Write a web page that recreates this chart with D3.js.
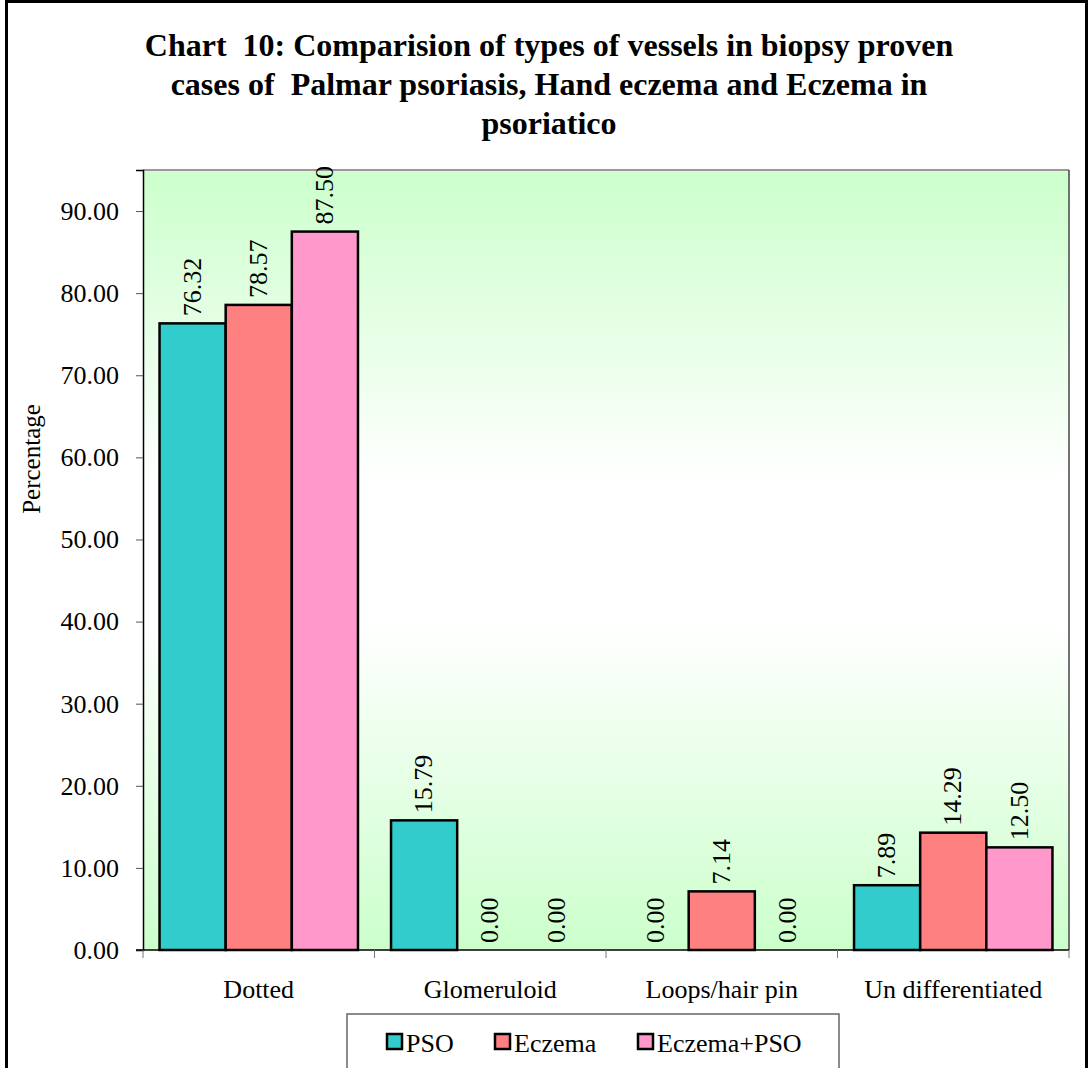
<!DOCTYPE html>
<html>
<head>
<meta charset="utf-8">
<script src="https://cdn.jsdelivr.net/npm/d3@7"></script>
<style>
  html, body { margin: 0; padding: 0; background: #fff; }
  svg { display: block; }
  svg text { font-family: "Liberation Serif", "Times New Roman", serif; fill: #000; }
</style>
</head>
<body>
<svg id="chart" width="1089" height="1068"></svg>
<script>
// Vessel types and the share (%) of each group showing them
const categories = ["Dotted", "Glomeruloid", "Loops/hair pin", "Un differentiated"];
const seriesNames = ["PSO", "Eczema", "Eczema+PSO"];
const psoValues = [76.32, 15.79, 0.00, 7.89];
const eczemaValues = [78.57, 0.00, 7.14, 14.29];
const eczemaPsoValues = [87.50, 0.00, 0.00, 12.50];
const yTickValues = [0, 10, 20, 30, 40, 50, 60, 70, 80, 90];
const titleLines = [
  "Chart  10: Comparision of types of vessels in biopsy proven",
  "cases of  Palmar psoriasis, Hand eczema and Eczema in",
  "psoriatico"
];
const seriesColors = ["#33CCCC", "#FF8080", "#FF99CC"];

const seriesValues = [psoValues, eczemaValues, eczemaPsoValues];

const SERIF = "'Liberation Serif', 'Times New Roman', serif";
const svg = d3.select("#chart");
const plot = { left: 143, right: 1069, top: 170, bottom: 950 };

// Outer chart frame
svg.append("rect")
  .attr("x", 6.5).attr("y", 1.5)
  .attr("width", 1080).attr("height", 1100)
  .attr("fill", "#fff").attr("stroke", "#000").attr("stroke-width", 3);

// Title
svg.append("g").selectAll("text")
  .data(titleLines)
  .join("text")
  .attr("x", 549)
  .attr("y", (d, i) => 56 + i * 39)
  .attr("text-anchor", "middle")
  .style("font-family", SERIF)
  .style("font-size", "32px")
  .style("font-weight", "bold")
  .style("white-space", "pre")
  .text(d => d);

// Plot background gradient
const defs = svg.append("defs");
const grad = defs.append("linearGradient")
  .attr("id", "plotBg").attr("x1", 0).attr("y1", 0).attr("x2", 0).attr("y2", 1);
grad.append("stop").attr("offset", "0").attr("stop-color", "#ccffcc");
grad.append("stop").attr("offset", "0.4").attr("stop-color", "#ffffff");
grad.append("stop").attr("offset", "0.58").attr("stop-color", "#ffffff");
grad.append("stop").attr("offset", "1").attr("stop-color", "#ccffcc");

svg.append("rect")
  .attr("x", plot.left).attr("y", plot.top)
  .attr("width", plot.right - plot.left).attr("height", plot.bottom - plot.top)
  .attr("fill", "url(#plotBg)");

// Plot frame: grey top, dark right
svg.append("line")
  .attr("x1", plot.left).attr("x2", plot.right)
  .attr("y1", plot.top).attr("y2", plot.top)
  .attr("stroke", "#999").attr("stroke-width", 2);
svg.append("line")
  .attr("x1", plot.right).attr("x2", plot.right)
  .attr("y1", plot.top).attr("y2", plot.bottom)
  .attr("stroke", "#444").attr("stroke-width", 1.5);

// Scales
const x0 = d3.scaleBand()
  .domain(categories)
  .range([plot.left, plot.right])
  .paddingInner(0).paddingOuter(0);
const x1 = d3.scaleBand()
  .domain(seriesNames)
  .range([0, x0.bandwidth()])
  .paddingInner(0).paddingOuter(0.25);
const y = d3.scaleLinear().domain([0, 95]).range([plot.bottom, plot.top]);

// Y axis
const yAxis = svg.append("g")
  .attr("transform", `translate(${plot.left},0)`)
  .call(d3.axisLeft(y)
    .tickValues(yTickValues)
    .tickFormat(d3.format(".2f"))
    .tickSize(7)
    .tickPadding(17));
yAxis.select(".domain").attr("stroke", "#000").attr("stroke-width", 1.5);
yAxis.selectAll(".tick line").attr("stroke", "#555");
yAxis.selectAll(".tick text")
  .style("font-family", SERIF)
  .style("font-size", "26px")
  .style("fill", "#000");

// Y axis title
svg.append("text")
  .attr("transform", "translate(40,459) rotate(-90)")
  .attr("text-anchor", "middle")
  .style("font-family", SERIF)
  .style("font-size", "25px")
  .text("Percentage");

// Bars
const rows = categories.map((c, i) => ({
  category: c,
  values: seriesNames.map((s, j) => ({ series: s, value: seriesValues[j][i], color: seriesColors[j] }))
}));

const groups = svg.append("g").selectAll("g")
  .data(rows)
  .join("g")
  .attr("transform", d => `translate(${x0(d.category)},0)`);

groups.selectAll("rect")
  .data(d => d.values.filter(v => v.value > 0))
  .join("rect")
  .attr("x", d => x1(d.series))
  .attr("y", d => y(d.value))
  .attr("width", x1.bandwidth())
  .attr("height", d => y(0) - y(d.value))
  .attr("fill", d => d.color)
  .attr("stroke", "#000")
  .attr("stroke-width", 2.5);

// Value labels, rotated, sitting above each bar
groups.selectAll("text")
  .data(d => d.values)
  .join("text")
  .attr("transform", d => `translate(${x1(d.series) + x1.bandwidth() / 2 - 1},${y(d.value) - 7}) rotate(-90)`)
  .attr("dy", "0.35em")
  .attr("text-anchor", "start")
  .style("font-family", SERIF)
  .style("font-size", "26px")
  .text(d => d.value.toFixed(2));

// X axis line and category boundary ticks
svg.append("line")
  .attr("x1", plot.left - 7).attr("x2", plot.right)
  .attr("y1", plot.bottom).attr("y2", plot.bottom)
  .attr("stroke", "#000").attr("stroke-width", 1.5);

const boundaries = categories.map(c => x0(c)).concat([x0.range()[1]]);
svg.append("g").selectAll("line")
  .data(boundaries)
  .join("line")
  .attr("x1", d => d).attr("x2", d => d)
  .attr("y1", plot.bottom).attr("y2", plot.bottom + 8)
  .attr("stroke", "#777").attr("stroke-width", 1);

svg.append("g").selectAll("text")
  .data(categories)
  .join("text")
  .attr("x", d => x0(d) + x0.bandwidth() / 2)
  .attr("y", 998)
  .attr("text-anchor", "middle")
  .style("font-family", SERIF)
  .style("font-size", "26px")
  .text(d => d);

// Legend
svg.append("rect")
  .attr("x", 347).attr("y", 1014)
  .attr("width", 492).attr("height", 80)
  .attr("fill", "#fff").attr("stroke", "#666").attr("stroke-width", 1.5);

const legendX = [387, 495, 638];
const legend = svg.append("g").selectAll("g")
  .data(seriesNames)
  .join("g")
  .attr("transform", (d, i) => `translate(${legendX[i]},1034)`);
legend.append("rect")
  .attr("width", 15).attr("height", 15)
  .attr("fill", (d, i) => seriesColors[i])
  .attr("stroke", "#000").attr("stroke-width", 2.5);
legend.append("text")
  .attr("x", 19).attr("y", 18)
  .style("font-family", SERIF)
  .style("font-size", "26px")
  .text(d => d);
</script>
</body>
</html>
